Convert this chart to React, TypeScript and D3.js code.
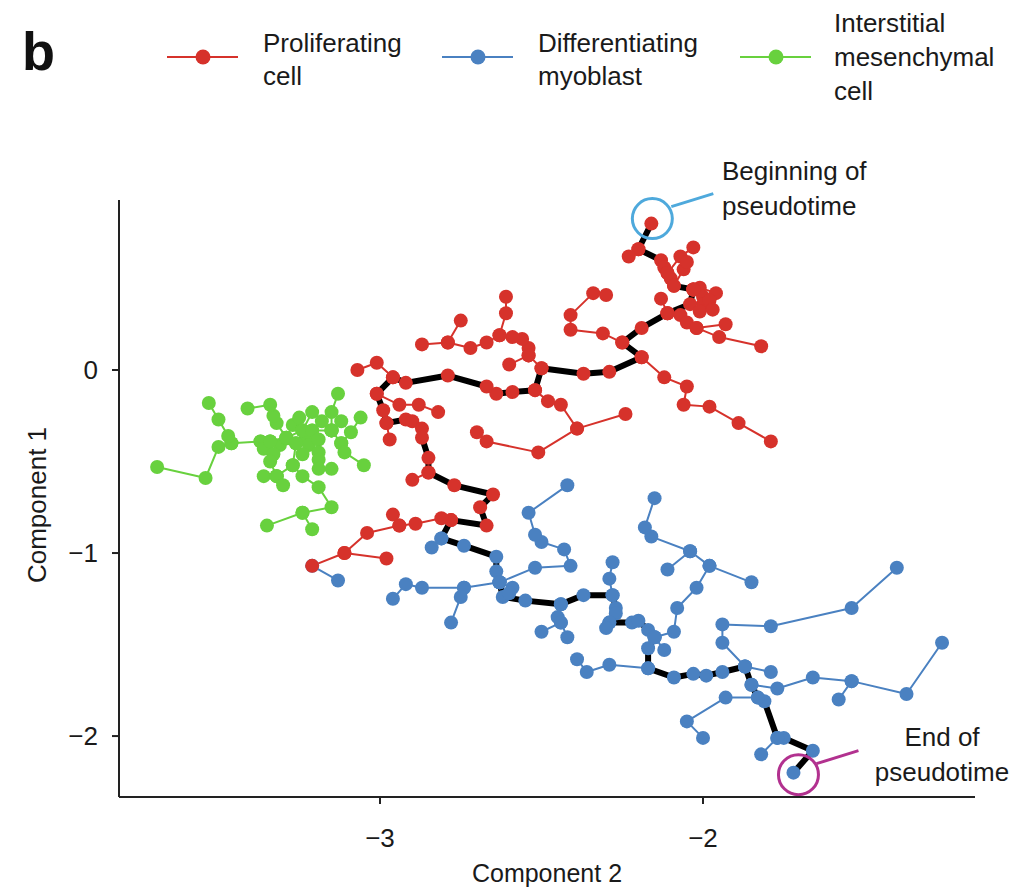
import React from 'react';
import * as d3 from 'd3';

type P = [number, number];

// ---------- data (Component 2 = x, Component 1 = y) ----------
const xTicks = [-3, -2];
const yTicks = [0, -1, -2];
const xDomain: P = [-3.808, -1.158];
const yDomain: P = [-2.333, 0.929];

const categories = ['Proliferating cell', 'Differentiating myoblast', 'Interstitial mesenchymal cell'];

// principal trajectory (thick black), red part then blue part
const trajectoryRed: P[] = [
  [-2.16, 0.80], [-2.20, 0.66], [-2.13, 0.60], [-2.12, 0.56], [-2.11, 0.53], [-2.10, 0.50],
  [-2.09, 0.46], [-2.03, 0.44], [-2.04, 0.36], [-2.11, 0.31], [-2.19, 0.23], [-2.25, 0.15],
  [-2.19, 0.07], [-2.29, -0.01], [-2.37, -0.02], [-2.50, 0.01], [-2.52, -0.11], [-2.59, -0.12],
  [-2.64, -0.13], [-2.67, -0.09], [-2.79, -0.03], [-2.92, -0.07], [-2.96, -0.04], [-3.01, -0.13],
  [-2.99, -0.22], [-2.98, -0.29], [-2.92, -0.27], [-2.90, -0.28], [-2.87, -0.32], [-2.87, -0.37],
  [-2.85, -0.48], [-2.85, -0.56], [-2.77, -0.63], [-2.65, -0.68], [-2.69, -0.75], [-2.67, -0.85],
  [-2.78, -0.82],
];
const trajectoryBlue: P[] = [
  [-2.81, -0.92], [-2.74, -0.96], [-2.64, -1.02], [-2.64, -1.10], [-2.63, -1.16], [-2.62, -1.24],
  [-2.55, -1.26], [-2.44, -1.28], [-2.37, -1.23], [-2.28, -1.23], [-2.27, -1.30], [-2.27, -1.33],
  [-2.29, -1.38], [-2.22, -1.38], [-2.20, -1.37], [-2.17, -1.42], [-2.15, -1.46], [-2.17, -1.52],
  [-2.17, -1.63], [-2.09, -1.68], [-2.03, -1.66], [-1.99, -1.67], [-1.94, -1.65], [-1.87, -1.62],
  [-1.85, -1.72], [-1.83, -1.79], [-1.81, -1.81], [-1.77, -2.01], [-1.75, -2.01], [-1.66, -2.08],
  [-1.72, -2.20],
];

const redBranches: P[][] = [
  [[-2.11, 0.53], [-2.07, 0.62], [-2.03, 0.67]],
  [[-2.20, 0.66], [-2.23, 0.62]],
  [[-2.09, 0.46], [-2.06, 0.55], [-2.05, 0.59]],
  [[-2.03, 0.44], [-2.01, 0.45], [-1.96, 0.42]],
  [[-2.03, 0.44], [-2.00, 0.40], [-2.00, 0.36], [-2.01, 0.32]],
  [[-2.03, 0.44], [-1.98, 0.38], [-1.97, 0.33]],
  [[-2.11, 0.31], [-2.13, 0.39]],
  [[-2.11, 0.31], [-2.07, 0.30], [-2.05, 0.26], [-2.02, 0.23], [-1.95, 0.18], [-1.82, 0.13]],
  [[-2.02, 0.23], [-1.93, 0.25]],
  [[-2.25, 0.15], [-2.31, 0.20], [-2.41, 0.22], [-2.41, 0.30], [-2.34, 0.42], [-2.30, 0.41]],
  [[-2.19, 0.07], [-2.12, -0.04], [-2.05, -0.09], [-2.06, -0.19], [-1.98, -0.20], [-1.89, -0.29], [-1.79, -0.39]],
  [[-2.52, -0.11], [-2.48, -0.17], [-2.44, -0.19], [-2.39, -0.32], [-2.24, -0.24]],
  [[-2.39, -0.32], [-2.51, -0.45], [-2.67, -0.39], [-2.70, -0.34]],
  [[-2.50, 0.01], [-2.54, 0.08], [-2.54, 0.12], [-2.56, 0.17], [-2.59, 0.18], [-2.63, 0.19], [-2.67, 0.15], [-2.72, 0.12], [-2.79, 0.15], [-2.87, 0.14]],
  [[-2.63, 0.19], [-2.61, 0.31], [-2.61, 0.40]],
  [[-2.79, 0.15], [-2.75, 0.27]],
  [[-2.54, 0.08], [-2.60, 0.03]],
  [[-2.96, -0.04], [-3.01, 0.04], [-3.07, 0.00]],
  [[-3.01, -0.13], [-2.94, -0.19], [-2.88, -0.19], [-2.82, -0.23]],
  [[-2.98, -0.29], [-2.97, -0.38]],
  [[-2.85, -0.56], [-2.90, -0.60]],
  [[-2.78, -0.82], [-2.81, -0.81], [-2.89, -0.84], [-2.94, -0.85], [-2.96, -0.79]],
  [[-2.94, -0.85], [-3.04, -0.89], [-3.11, -1.00], [-3.21, -1.07]],
  [[-3.11, -1.00], [-2.98, -1.03]],
];

const blueBranches: P[][] = [
  [[-3.21, -1.07], [-3.13, -1.15]],
  [[-2.81, -0.92], [-2.84, -0.97]],
  [[-2.63, -1.16], [-2.52, -1.08], [-2.41, -1.07], [-2.43, -0.98], [-2.50, -0.94], [-2.52, -0.90], [-2.54, -0.78], [-2.42, -0.63]],
  [[-2.63, -1.16], [-2.74, -1.19], [-2.87, -1.19], [-2.92, -1.17], [-2.96, -1.25]],
  [[-2.74, -1.19], [-2.75, -1.24], [-2.78, -1.38]],
  [[-2.63, -1.16], [-2.59, -1.19], [-2.60, -1.22]],
  [[-2.44, -1.28], [-2.45, -1.35], [-2.44, -1.38], [-2.50, -1.43]],
  [[-2.44, -1.38], [-2.42, -1.46]],
  [[-2.28, -1.23], [-2.29, -1.14], [-2.28, -1.05]],
  [[-2.29, -1.38], [-2.30, -1.41]],
  [[-2.15, -1.46], [-2.09, -1.43], [-2.08, -1.30], [-2.02, -1.19], [-1.98, -1.07], [-2.04, -0.99], [-2.16, -0.91], [-2.18, -0.86], [-2.15, -0.70]],
  [[-2.04, -0.99], [-2.11, -1.09]],
  [[-1.98, -1.07], [-1.85, -1.16]],
  [[-2.15, -1.46], [-2.12, -1.53]],
  [[-2.17, -1.63], [-2.29, -1.61], [-2.36, -1.65], [-2.39, -1.58]],
  [[-1.87, -1.62], [-1.94, -1.49], [-1.94, -1.39], [-1.79, -1.40], [-1.54, -1.30], [-1.40, -1.08]],
  [[-1.87, -1.62], [-1.79, -1.65]],
  [[-1.85, -1.72], [-1.77, -1.74], [-1.66, -1.68], [-1.54, -1.70], [-1.37, -1.77], [-1.26, -1.49]],
  [[-1.54, -1.70], [-1.58, -1.80]],
  [[-1.83, -1.79], [-1.93, -1.79], [-2.05, -1.92], [-2.00, -2.01]],
  [[-1.77, -2.01], [-1.82, -2.10]],
];

const greenBranches: P[][] = [
  [[-3.69, -0.53], [-3.54, -0.59], [-3.50, -0.42], [-3.46, -0.40], [-3.37, -0.39], [-3.34, -0.39], [-3.29, -0.37], [-3.24, -0.33], [-3.21, -0.33], [-3.15, -0.33], [-3.12, -0.40], [-3.09, -0.34], [-3.06, -0.26]],
  [[-3.46, -0.40], [-3.47, -0.36], [-3.50, -0.27], [-3.53, -0.18]],
  [[-3.37, -0.39], [-3.36, -0.43]],
  [[-3.34, -0.39], [-3.31, -0.41], [-3.26, -0.40]],
  [[-3.34, -0.39], [-3.33, -0.46]],
  [[-3.29, -0.37], [-3.32, -0.29], [-3.33, -0.25], [-3.34, -0.19], [-3.41, -0.21]],
  [[-3.29, -0.37], [-3.27, -0.30], [-3.25, -0.26]],
  [[-3.24, -0.33], [-3.21, -0.23]],
  [[-3.24, -0.33], [-3.23, -0.38]],
  [[-3.24, -0.33], [-3.22, -0.41], [-3.24, -0.46]],
  [[-3.21, -0.33], [-3.19, -0.38], [-3.19, -0.45], [-3.19, -0.49], [-3.19, -0.54], [-3.15, -0.54]],
  [[-3.15, -0.33], [-3.15, -0.23], [-3.13, -0.13]],
  [[-3.15, -0.33], [-3.18, -0.28]],
  [[-3.15, -0.33], [-3.12, -0.28]],
  [[-3.12, -0.40], [-3.11, -0.45], [-3.05, -0.52]],
  [[-3.26, -0.40], [-3.27, -0.52], [-3.32, -0.58], [-3.36, -0.58]],
  [[-3.32, -0.58], [-3.34, -0.50]],
  [[-3.32, -0.58], [-3.30, -0.63]],
  [[-3.27, -0.52], [-3.24, -0.58], [-3.19, -0.64], [-3.15, -0.75], [-3.24, -0.78], [-3.35, -0.85]],
  [[-3.24, -0.78], [-3.21, -0.87]],
];

// ---------- styles ----------
const RED = '#d6322b';
const BLUE = '#4a81c1';
const GREEN = '#68d13e';
const TEXT = '#1a1a1a';
const FONT = '"Liberation Sans", Arial, Helvetica, sans-serif';
const FS = 26;

const W = 1019;
const H = 890;
const plot = { left: 119, right: 975, top: 200, bottom: 797 };

export default function App() {
  const x = d3.scaleLinear().domain(xDomain).range([plot.left, plot.right]);
  const y = d3.scaleLinear().domain(yDomain).range([plot.bottom, plot.top]);
  const line = d3.line<P>().x((d) => x(d[0])).y((d) => y(d[1]));

  const groups = [
    { color: RED, branches: redBranches, traj: trajectoryRed },
    { color: BLUE, branches: blueBranches, traj: trajectoryBlue },
    { color: GREEN, branches: greenBranches, traj: [] as P[] },
  ];

  const dotsFor = (g: { branches: P[][]; traj: P[] }) => {
    const pts: P[] = [...g.traj];
    g.branches.forEach((b) => b.forEach((p) => pts.push(p)));
    return pts;
  };

  const start = trajectoryRed[0];
  const end = trajectoryBlue[trajectoryBlue.length - 1];
  const fmt = (v: number) => (v < 0 ? '\u2212' + Math.abs(v) : String(v));

  const legend = [
    { color: RED, lines: ['Proliferating', 'cell'], lx: 167, tx: 263, ty: [43, 76] },
    { color: BLUE, lines: ['Differentiating', 'myoblast'], lx: 442, tx: 538, ty: [43, 76] },
    { color: GREEN, lines: ['Interstitial', 'mesenchymal', 'cell'], lx: 740, tx: 834, ty: [23, 57, 91] },
  ];

  return (
    <svg
      width={W}
      height={H}
      style={{ position: 'absolute', left: 0, top: 0, background: '#fff' }}
      fontFamily={FONT}
    >
      <rect width={W} height={H} fill="#fff" />
      {/* panel letter */}
      <text x={22} y={70} fontSize={54} fontWeight="bold" fill="#111">b</text>
      {/* legend */}
      {legend.map((l, i) => (
        <g key={i} aria-label={categories[i]}>
          <line x1={l.lx} x2={l.lx + 71} y1={57} y2={57} stroke={l.color} strokeWidth={2} />
          <circle cx={l.lx + 36} cy={57} r={7.5} fill={l.color} />
          {l.lines.map((t, j) => (
            <text key={j} x={l.tx} y={l.ty[j]} fontSize={FS} fill={TEXT} dominantBaseline="central">{t}</text>
          ))}
        </g>
      ))}

      {/* thin branch lines */}
      {groups.map((g, gi) =>
        g.branches.map((b, bi) => (
          <path key={`b${gi}-${bi}`} d={line(b) || ''} fill="none" stroke={g.color} strokeWidth={2} strokeLinejoin="round" />
        ))
      )}
      {/* principal trajectory */}
      <path
        d={line([...trajectoryRed, ...trajectoryBlue]) || ''}
        fill="none"
        stroke="#000"
        strokeWidth={6}
        strokeLinejoin="round"
        strokeLinecap="round"
      />
      {/* cells: blue, green, red */}
      {[groups[1], groups[2], groups[0]].map((g, gi) =>
        dotsFor(g).map((p, pi) => (
          <circle key={`d${gi}-${pi}`} cx={x(p[0])} cy={y(p[1])} r={7} fill={g.color} />
        ))
      )}

      {/* annotations */}
      <circle cx={x(start[0]) + 1} cy={y(start[1]) - 5} r={20} fill="none" stroke="#4ea9dc" strokeWidth={3} />
      <line x1={x(start[0]) + 20} y1={y(start[1]) - 17} x2={x(start[0]) + 62} y2={y(start[1]) - 30} stroke="#4ea9dc" strokeWidth={3} />
      <text x={722} y={171} fontSize={FS} fill={TEXT} dominantBaseline="central">Beginning of</text>
      <text x={722} y={206} fontSize={FS} fill={TEXT} dominantBaseline="central">pseudotime</text>

      <circle cx={x(end[0]) + 5} cy={y(end[1]) + 2} r={20} fill="none" stroke="#b2318f" strokeWidth={3} />
      <line x1={x(end[0]) + 23} y1={y(end[1]) - 9} x2={x(end[0]) + 65} y2={y(end[1]) - 22} stroke="#b2318f" strokeWidth={3} />
      <text x={942} y={737} fontSize={FS} fill={TEXT} textAnchor="middle" dominantBaseline="central">End of</text>
      <text x={942} y={772} fontSize={FS} fill={TEXT} textAnchor="middle" dominantBaseline="central">pseudotime</text>

      {/* axes */}
      <line x1={plot.left} x2={plot.right} y1={plot.bottom} y2={plot.bottom} stroke="#222" strokeWidth={2} />
      <line x1={plot.left} x2={plot.left} y1={plot.top} y2={plot.bottom} stroke="#222" strokeWidth={2} />
      {xTicks.map((t) => (
        <g key={`xt${t}`}>
          <line x1={x(t)} x2={x(t)} y1={plot.bottom} y2={plot.bottom + 7} stroke="#222" strokeWidth={2} />
          <text x={x(t)} y={838} fontSize={FS} textAnchor="middle" dominantBaseline="central" fill={TEXT}>{fmt(t)}</text>
        </g>
      ))}
      {yTicks.map((t) => (
        <g key={`yt${t}`}>
          <line x1={plot.left - 7} x2={plot.left} y1={y(t)} y2={y(t)} stroke="#222" strokeWidth={2} />
          <text x={98} y={y(t)} fontSize={FS} textAnchor="end" dominantBaseline="central" fill={TEXT}>{fmt(t)}</text>
        </g>
      ))}
      <text x={547} y={873} fontSize={25} textAnchor="middle" dominantBaseline="central" fill={TEXT}>Component 2</text>
      <text
        transform={`translate(37, 505) rotate(-90)`}
        fontSize={FS}
        textAnchor="middle"
        dominantBaseline="central"
        fill={TEXT}
      >
        Component 1
      </text>
    </svg>
  );
}
